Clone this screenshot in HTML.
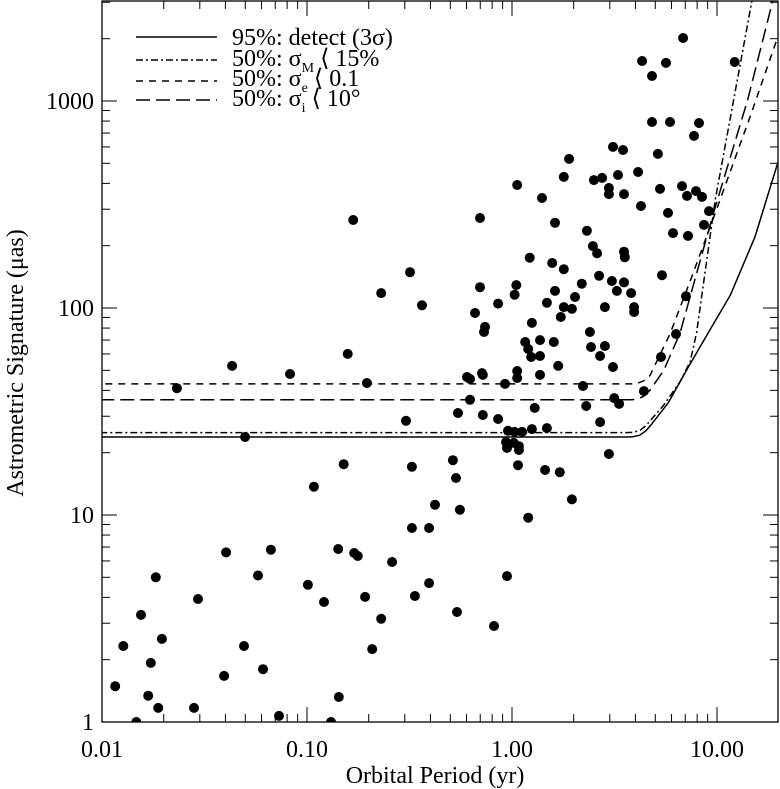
<!DOCTYPE html>
<html><head><meta charset="utf-8"><style>
html,body{margin:0;padding:0;background:#fff;}
svg{display:block;font-family:"Liberation Serif","DejaVu Serif",serif;}
</style></head><body>
<svg id="chart" width="780" height="789" viewBox="0 0 780 789" xmlns="http://www.w3.org/2000/svg">
<g id="curves"></g>
<g id="dots"></g>
<g id="axes"></g>
<g font-size="24" fill="#000">
  <line x1="136" y1="37" x2="217" y2="37" stroke="#000" stroke-width="1.5"/>
  <text x="232" y="45">95%: detect (3σ)</text>
  <line x1="136" y1="60" x2="217" y2="60" stroke="#000" stroke-width="1.5" stroke-dasharray="7,3,2,3"/>
  <text x="232" y="66">50%: σ<tspan font-size="14" dy="6">M</tspan><tspan dy="-6"> ⟨ 15%</tspan></text>
  <line x1="136" y1="81" x2="217" y2="81" stroke="#000" stroke-width="1.5" stroke-dasharray="7,6"/>
  <text x="232" y="86">50%: σ<tspan font-size="14" dy="6">e</tspan><tspan dy="-6"> ⟨ 0.1</tspan></text>
  <line x1="136" y1="100" x2="217" y2="100" stroke="#000" stroke-width="1.5" stroke-dasharray="14,6"/>
  <text x="232" y="106">50%: σ<tspan font-size="14" dy="6">i</tspan><tspan dy="-6"> ⟨ 10°</tspan></text>
</g>
<text x="435" y="783" font-size="24" text-anchor="middle">Orbital Period (yr)</text>
<text transform="translate(23,363) rotate(-90)" font-size="24" text-anchor="middle">Astrometric Signature (μas)</text>
</svg>
<script>
const periods = [0.0431,0.0826,0.0232,0.0499,0.108,0.0403,0.0667,0.0183,0.0577,0.0294,0.101,0.121,0.0155,0.0196,0.0127,0.0493,0.0173,0.061,0.0394,0.0116,0.0168,0.0188,0.0281,0.073,0.0147,
0.168,0.318,0.230,0.364,0.158,0.196,0.304,0.151,0.325,0.421,0.557,0.325,0.394,0.142,0.170,0.177,0.26,0.192,0.336,0.394,0.539,0.230,0.208,0.143,0.131,
1.90,1.79,1.06,1.40,0.698,1.62,1.22,1.57,1.79,0.698,1.05,1.03,1.62,2.03,1.48,0.855,1.79,1.96,1.73,0.66,1.25,0.738,0.73,1.16,1.37,1.60,1.20,1.24,1.37,1.68,0.603,0.624,0.714,0.72,1.06,1.06,1.37,0.924,0.624,1.29,0.545,0.72,0.855,1.25,1.48,0.956,1.03,1.12,0.935,0.945,1.02,1.08,1.08,0.515,1.07,1.45,1.71,0.533,1.96,1.20,0.945,0.817,2.97,
6.83,4.31,5.64,4.82,12.2,4.82,5.90,8.17,7.72,3.11,3.48,5.15,4.12,3.29,2.51,2.75,2.97,2.97,3.52,5.27,6.75,7.14,7.90,8.45,4.26,9.14,5.77,8.64,2.32,6.10,7.22,2.48,2.60,3.52,3.55,2.66,5.39,2.19,3.07,3.52,3.25,3.81,2.84,3.94,3.94,7.06,2.40,6.31,2.43,2.84,2.69,3.11,5.33,2.22,4.40,3.15,3.33,2.30,2.69];
const signatures = [52.5,48,41,23.8,13.7,6.6,6.8,5.0,5.1,3.93,4.6,3.8,3.29,2.52,2.33,2.33,1.93,1.80,1.67,1.49,1.34,1.17,1.17,1.07,1.0,
266,149,118,103,60,43.4,28.5,17.6,17.1,11.2,10.6,8.65,8.65,6.85,6.55,6.34,5.93,4.02,4.06,4.69,3.4,3.15,2.25,1.32,1.0,
525,430,393,340,272,258,175,165,154,126,129,116,121,113,106,105,101,99,90.5,94.6,84.7,81,76.6,68.5,70,68.5,63.4,58,58.6,52.5,46.4,45.4,48.5,47.5,49.6,45.9,47.5,43,36,32.9,31.1,30.4,29.1,26,26.3,25.5,25.2,25.2,22.5,21.1,22.3,21.5,20.6,18.4,17.4,16.5,16.1,15.1,11.9,9.7,5.07,2.91,19.7,
2015,1560,1527,1320,1543,792,792,783,678,600,580,555,454,439,415,425,380,355,355,376,388,348,367,344,311,294,288,252,236,230,223,199,184,187,176,143,144,131,135,133,121,118,101,101,95.7,114,76.6,74.9,64.8,65.5,58.6,51.9,58,42,39.7,36.7,34.4,33.6,28.1];
const detectP = [0.005,3.6,3.9,4.2,4.5,4.8,5.8,7.1,9,11.6,15.3,20,22];
const detectV = [23.8,23.8,23.9,24.3,25.5,27.5,35,50,75,115,220,520,700];
const massP = [0.005,3.6,3.9,4.2,4.5,5.5,6.6,7.4,7.95,9.8,14.8,16];
const massV = [25,25,25.1,25.6,27,34,44,55,76,333,3040,5000];
const eccP = [0.005,3.8,4.1,4.4,4.7,5.9,7.5,9.8,14.5,20,22];
const eccV = [43,43,43.3,44.5,47,75,140,287,840,2100,2800];
const incP = [0.005,3.8,4.1,4.4,4.7,5.5,6.6,9.6,14.1,18.7,20];
const incV = [36,36,36.3,37.5,40,50,75.6,287,1010,3040,3600];
const xMajorTicks = [0.01,0.1,1,10];
const xTickLabels = ["0.01","0.10","1.00","10.00"];
const yMajorTicks = [1,10,100,1000];
const yTickLabels = ["1","10","100","1000"];

const NS="http://www.w3.org/2000/svg";
const L=102,R=778,T=1,B=722;
function xs(p){return 512+205*Math.log10(p);}
function ys(v){return 722-207*Math.log10(v);}
function mk(tag,attrs,parent){const e=document.createElementNS(NS,tag);for(const k in attrs)e.setAttribute(k,attrs[k]);parent.appendChild(e);return e;}

const defs=mk('defs',{},document.getElementById('chart'));
const cp=mk('clipPath',{id:'plotclip'},defs);
mk('rect',{x:L,y:T,width:R-L,height:B-T},cp);

const curves=document.getElementById('curves');
curves.setAttribute('clip-path','url(#plotclip)');
const cdefs=[[detectP,detectV,'none','curve-detect'],[massP,massV,'7,3,2,3','curve-mass'],[eccP,eccV,'7,6','curve-eccentricity'],[incP,incV,'14,6','curve-inclination']];
cdefs.forEach(c=>{
  const d=c[0].map((p,i)=>(i?'L':'M')+xs(p).toFixed(1)+','+ys(c[1][i]).toFixed(1)).join(' ');
  const e=mk('path',{d:d,fill:'none',stroke:'#000','stroke-width':1.5,'stroke-linejoin':'round'},curves);
  if(c[2]!=='none')e.setAttribute('stroke-dasharray',c[2]);
  
  
});

const dots=document.getElementById('dots');
dots.setAttribute('clip-path','url(#plotclip)');
periods.forEach((p,i)=>{
  const e=mk('circle',{cx:xs(p).toFixed(1),cy:ys(signatures[i]).toFixed(1),r:5,fill:'#000'},dots);
  
  
});

const axes=document.getElementById('axes');
const frame=mk('rect',{x:L,y:T,width:R-L,height:B-T,fill:'none',stroke:'#000','stroke-width':1.3},axes);


xMajorTicks.forEach((t,i)=>{
  for(let m=1;m<=9;m++){
    const v=t*m; const x=xs(v); if(x<L-0.5||x>R+0.5)continue;
    const len=m===1?15:8;
    mk('line',{x1:x,y1:B,x2:x,y2:B-len,stroke:'#000','stroke-width':1},axes);
    mk('line',{x1:x,y1:T,x2:x,y2:T+len,stroke:'#000','stroke-width':1},axes);
  }
  const lb=mk('text',{x:xs(t),y:757,'font-size':24,'text-anchor':'middle'},axes);
  lb.textContent=xTickLabels[i];
  
  
});
yMajorTicks.forEach((t,i)=>{
  for(let m=1;m<=9;m++){
    const v=t*m; const y=ys(v); if(y<T-0.5||y>B+0.5)continue;
    const len=m===1?15:8;
    mk('line',{x1:L,y1:y,x2:L+len,y2:y,stroke:'#000','stroke-width':1},axes);
    mk('line',{x1:R,y1:y,x2:R-len,y2:y,stroke:'#000','stroke-width':1},axes);
  }
  const lb=mk('text',{x:94,y:ys(t)+8,'font-size':24,'text-anchor':'end'},axes);
  lb.textContent=yTickLabels[i];
  
  
});
</script>
</body></html>
